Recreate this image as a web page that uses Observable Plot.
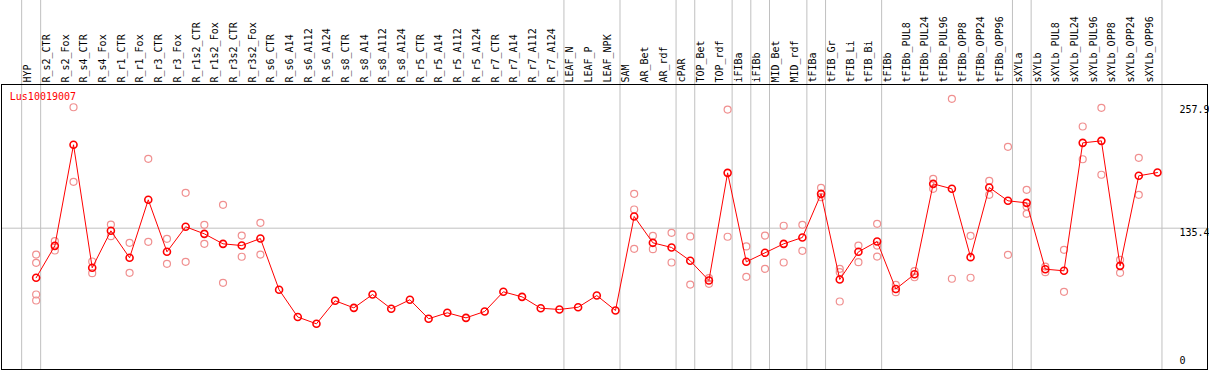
<!DOCTYPE html>
<html>
<head>
<meta charset="utf-8">
<script src="https://cdn.jsdelivr.net/npm/d3@7"></script>
<script src="https://cdn.jsdelivr.net/npm/@observablehq/plot@0.6"></script>
<style>
  html, body { margin: 0; padding: 0; background: #fff; }
  #chart svg { display: block; }
</style>
</head>
<body>
<div id="chart"></div>
<script>
const gene = "Lus10019007";

const samples = ["HYP","R_s2_CTR","R_s2_Fox","R_s4_CTR","R_s4_Fox","R_r1_CTR","R_r1_Fox","R_r3_CTR","R_r3_Fox",
  "R_r1s2_CTR","R_r1s2_Fox","R_r3s2_CTR","R_r3s2_Fox","R_s6_CTR","R_s6_A14","R_s6_A112","R_s6_A124",
  "R_s8_CTR","R_s8_A14","R_s8_A112","R_s8_A124","R_r5_CTR","R_r5_A14","R_r5_A112","R_r5_A124",
  "R_r7_CTR","R_r7_A14","R_r7_A112","R_r7_A124","LEAF_N","LEAF_P","LEAF_NPK","SAM","AR_Bet","AR_rdf",
  "cPAR","TOP_Bet","TOP_rdf","iFIBa","iFIBb","MID_Bet","MID_rdf","tFIBa","tFIB_Gr","tFIB_Li","tFIB_Bi",
  "tFIBb","tFIBb_PUL8","tFIBb_PUL24","tFIBb_PUL96","tFIBb_OPP8","tFIBb_OPP24","tFIBb_OPP96",
  "sXYLa","sXYLb","sXYLb_PUL8","sXYLb_PUL24","sXYLb_PUL96","sXYLb_OPP8","sXYLb_OPP24","sXYLb_OPP96"];

const means = [86.3,117.9,218.0,96.2,132.8,106.1,163.5,112.0,136.8,
  129.8,119.9,118.2,125.2,74.4,47.4,40.7,63.5,
  56.5,69.7,55.6,64.5,45.7,51.6,46.6,52.9,
  72.4,67.4,56.1,54.9,57.1,68.7,53.9,147.0,120.9,116.3,
  103.1,83.6,190.2,102.1,111.0,119.9,126.2,169.4,84.6,112.0,122.2,
  75.2,89.8,179.3,174.4,106.7,175.7,162.5,
  160.5,94.8,93.2,219.9,221.9,98.1,187.3,190.5];

const repSample = [
  "HYP","HYP","HYP","HYP",
  "R_s2_CTR","R_s2_CTR","R_s2_Fox","R_s2_Fox","R_s4_CTR","R_s4_CTR","R_s4_Fox","R_s4_Fox",
  "R_r1_CTR","R_r1_CTR","R_r1_Fox","R_r1_Fox","R_r3_CTR","R_r3_CTR","R_r3_Fox","R_r3_Fox",
  "R_r1s2_CTR","R_r1s2_CTR","R_r1s2_Fox","R_r1s2_Fox","R_r3s2_CTR","R_r3s2_CTR","R_r3s2_Fox","R_r3s2_Fox",
  "SAM","SAM","SAM","AR_Bet","AR_Bet","AR_rdf","AR_rdf","cPAR","cPAR","TOP_Bet","TOP_Bet","TOP_rdf","TOP_rdf",
  "iFIBa","iFIBa","iFIBb","iFIBb","MID_Bet","MID_Bet","MID_rdf","MID_rdf","tFIBa","tFIBa",
  "tFIB_Gr","tFIB_Gr","tFIB_Gr","tFIB_Li","tFIB_Li","tFIB_Bi","tFIB_Bi","tFIB_Bi",
  "tFIBb","tFIBb","tFIBb_PUL8","tFIBb_PUL8","tFIBb_PUL24","tFIBb_PUL24","tFIBb_PUL96","tFIBb_PUL96",
  "tFIBb_OPP8","tFIBb_OPP8","tFIBb_OPP24","tFIBb_OPP24","tFIBb_OPP96","tFIBb_OPP96",
  "sXYLa","sXYLa","sXYLa","sXYLb","sXYLb","sXYLb_PUL8","sXYLb_PUL8","sXYLb_PUL24","sXYLb_PUL24",
  "sXYLb_PUL96","sXYLb_PUL96","sXYLb_OPP8","sXYLb_OPP8","sXYLb_OPP24","sXYLb_OPP24"];

const repValue = [
  109.3,101.1,69.7,63.8,
  122.5,113.3,255.2,181.3,102.4,90.8,139.0,127.5,
  120.9,91.2,204.1,121.9,124.9,100.1,170.4,102.1,
  138.7,119.9,158.5,81.3,128.1,107.1,140.7,109.3,
  169.4,153.9,115.0,127.8,114.6,130.8,101.4,127.2,79.6,85.9,80.3,252.9,126.9,
  117.3,87.2,128.1,95.2,137.8,101.4,138.7,113.0,175.4,166.1,
  95.2,91.8,62.8,118.2,101.7,139.7,118.2,107.3,
  79.3,72.0,92.8,86.8,184.3,174.4,263.5,85.3,
  127.8,86.3,182.3,168.4,216.0,109.0,
  173.4,156.9,149.6,97.4,91.8,114.0,72.4,236.1,203.7,
  254.6,188.3,104.1,91.2,205.1,168.4];

// group separators: drawn just after these samples
const groupEnds = ["HYP","R_r7_A124","LEAF_NPK","AR_rdf","cPAR","TOP_rdf","iFIBa","iFIBb",
  "MID_rdf","tFIBa","tFIB_Bi","tFIBb_OPP96","sXYLa","sXYLb_OPP96"];

const yTicks = [0, 135.4, 257.9];
const yTickLabels = ["0", "135.4", "257.9"];

const font = "DejaVu Sans Mono";
const grey = "#c0c0c0";

const chart = Plot.plot({
  width: 1209,
  height: 370,
  marginTop: 84,
  marginBottom: 1,
  marginLeft: 1,
  marginRight: 2,
  style: { fontFamily: font, fontSize: "10px", background: "#fff" },
  x: { type: "point", domain: samples, range: [26.3, 1166.3], axis: null },
  y: { domain: [0, 257.9], range: [364.4, 104.0], axis: null },
  marks: [
    Plot.ruleY([yTicks[1]], { stroke: grey }),
    Plot.ruleX(["HYP"], { x: d => d, dx: -14.5, stroke: grey, insetTop: -84 }),
    Plot.ruleX(groupEnds, { x: d => d, dx: 4.5, stroke: grey, insetTop: -84 }),
    Plot.text(samples, {
      x: d => d, frameAnchor: "top", rotate: -90, textAnchor: "start", lineAnchor: "middle",
      dy: -2, dx: -8, fill: "black", fontFamily: font, fontSize: 10
    }),
    Plot.dot(repValue, { x: (d, i) => repSample[i], y: d => d, r: 3.5, stroke: "#f09090", strokeWidth: 1.2, fill: "none" }),
    Plot.line(means, { x: (d, i) => samples[i], y: d => d, stroke: "red", strokeWidth: 1 }),
    Plot.dot(means, { x: (d, i) => samples[i], y: d => d, r: 3.5, stroke: "red", strokeWidth: 1.6, fill: "none" }),
    Plot.text([yTickLabels[2], yTickLabels[1]], {
      y: (d, i) => [yTicks[2], yTicks[1]][i], text: d => d, frameAnchor: "right",
      textAnchor: "start", lineAnchor: "top", dx: -28, dy: 1, fill: "black", fontFamily: font, fontSize: 10
    }),
    Plot.text([yTickLabels[0]], {
      y: yTicks[0], text: d => d, frameAnchor: "right",
      textAnchor: "start", lineAnchor: "bottom", dx: -28, dy: -1, fill: "black", fontFamily: font, fontSize: 10
    }),
    Plot.text([gene], {
      frameAnchor: "top-left", textAnchor: "start", lineAnchor: "top", dx: 8.3, dy: 8,
      fill: "red", fontFamily: font, fontSize: 10
    }),
    Plot.frame({ stroke: "black" })
  ]
});
document.getElementById("chart").appendChild(chart);
</script>
</body>
</html>
